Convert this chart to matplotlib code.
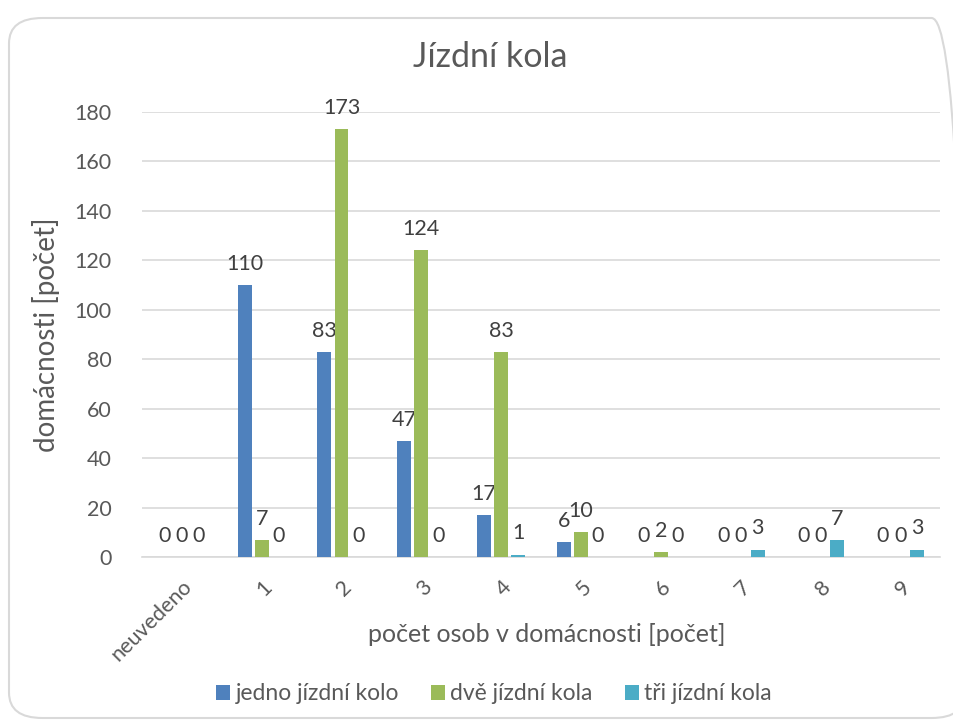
import matplotlib
matplotlib.use("Agg")
import matplotlib.pyplot as plt
import numpy as np
from matplotlib.patches import FancyBboxPatch

plt.rcParams['font.family'] = ['Lato', 'DejaVu Sans']

categories = ["neuvedeno", "1", "2", "3", "4", "5", "6", "7", "8", "9"]
series_names = ["jedno jízdní kolo", "dvě jízdní kola", "tři jízdní kola"]
jedno = [0, 110, 83, 47, 17, 6, 0, 0, 0, 0]
dve = [0, 7, 173, 124, 83, 10, 2, 0, 0, 0]
tri = [0, 0, 0, 0, 1, 0, 0, 3, 7, 3]
yticks = [0, 20, 40, 60, 80, 100, 120, 140, 160, 180]

colors = ["#4F81BD", "#9BBB59", "#4BACC6"]
txt = "#595959"
grid = "#D9D9D9"

fig = plt.figure(figsize=(9.54, 7.26), dpi=100)
W, H = 954, 726
ax = fig.add_axes([142 / W, 1 - 557 / H, (940 - 142) / W, (557 - 112) / H])

# chart border
border = FancyBboxPatch((9 / W, 1 - 718 / H), (965 - 9) / W, (718 - 18) / H,
                        boxstyle="round,pad=0,rounding_size=0.035",
                        transform=fig.transFigure, facecolor="none",
                        edgecolor=grid, linewidth=1.5, clip_on=False)
fig.patches.append(border)

x = np.arange(len(categories))
width = 0.175
step = 0.215
for i, (vals, name) in enumerate(zip([jedno, dve, tri], series_names)):
    pos = x + (i - 1) * step
    ax.bar(pos, vals, width, color=colors[i], label=name, zorder=3)
    for xp, v in zip(pos, vals):
        ax.text(xp, v + 4.5, str(v), ha="center", va="bottom", fontsize=15.5, color="#404040")

ax.set_xlim(-0.5, len(categories) - 0.5)
ax.set_ylim(0, 180)
ax.set_yticks(yticks)
ax.set_xticks(x)
ax.set_xticklabels(categories, rotation=45, ha="right", rotation_mode="anchor")
ax.tick_params(axis="both", length=0, colors=txt, labelsize=15.5)
ax.tick_params(axis="x", pad=14)
ax.tick_params(axis="y", pad=22)
ax.yaxis.grid(True, color=grid, linewidth=1.2, zorder=0)
for s in ["top", "right", "left"]:
    ax.spines[s].set_visible(False)
ax.spines["bottom"].set_color(grid)
ax.spines["bottom"].set_linewidth(1.2)
ax.set_axisbelow(True)

ax.set_ylabel("domácnosti [počet]", fontsize=20, color=txt, labelpad=10)
fig.text(547 / W, 1 - 634 / H, "počet osob v domácnosti [počet]", ha="center", va="center",
         fontsize=18, color=txt)
fig.text(490 / W, 1 - 57 / H, "Jízdní kola", ha="center", va="center", fontsize=24.5, color=txt)

leg = fig.legend(loc="center", bbox_to_anchor=(494 / W, 1 - 694 / H), ncol=3, frameon=False,
                 fontsize=16.5, handlelength=0.6, handleheight=0.6, handletextpad=0.25,
                 columnspacing=1.4, labelcolor=txt)

fig.savefig("out.png", dpi=100, facecolor="white")
